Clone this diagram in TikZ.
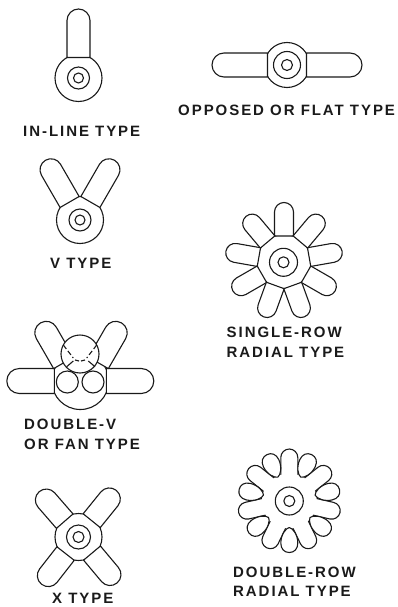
\documentclass[tikz,border=0pt]{standalone}
\usepackage{fontspec}
\setmainfont{Liberation Sans}[LetterSpace=13]
\definecolor{inkline}{HTML}{1A1A1A}

% One cylinder, pointing up before rotation: base line, two sides, round tip
\newcommand{\cylinder}[5]{%
  \begin{scope}[shift={(#1)}, rotate=#2]
    \draw[engine, fill=white, rounded corners=#5pt]
      (-#5,-#3) [sharp corners] -- (-#5,-#3) [rounded corners=#5pt] -- (-#5,-#4) -- (#5,-#4)
      [sharp corners] -- (#5,-#3) -- cycle;
  \end{scope}}
% Two rings of the crankshaft
\newcommand{\rings}[3]{%
  \draw[engine] (#1) circle (#2) (#1) circle (#3);}

\begin{document}
\begin{tikzpicture}[
    x=1pt, y=-1pt,
    engine/.style={draw=inkline, line width=1.1pt, line join=round},
    hidden/.style={engine, dash pattern=on 5pt off 2.5pt},
    typelabel/.style={
      font=\fontsize{15}{19.5}\selectfont\bfseries,
      text=inkline, align=left, anchor=west, inner sep=0pt
    },
  ]
  \useasboundingbox (0,0) rectangle (398,607);

  % In-line
  \coordinate (inline) at (78.5,78);
  \draw[engine] (inline) circle (23.5);
  \cylinder{inline}{0}{20.5}{69}{11.5}
  \rings{inline}{11}{5}
  \node[typelabel] (inlinelabel) at (23,131.5) {IN-LINE TYPE};

  % Opposed
  \coordinate (opposed) at (287,65);
  \draw[engine] (opposed) circle (22.5);
  \foreach \ang in {90,-90} {\cylinder{opposed}{\ang}{19.5}{75}{12}}
  \rings{opposed}{13.5}{5.5}
  \node[typelabel] (opposedlabel) at (178,110) {OPPOSED OR FLAT TYPE};

  % V
  \coordinate (vee) at (80,220);
  \draw[engine] (vee) circle (23.5);
  \foreach \ang in {30,-30} {\cylinder{vee}{\ang}{20.8}{69}{11}}
  \rings{vee}{11}{5}
  \node[typelabel] (veelabel) at (50,263) {V TYPE};

  % Single row radial
  \coordinate (single) at (284,261.5);
  \coordinate (singleshaft) at (283.5,262.3);
  \draw[engine] (single) circle (27);
  \foreach \k in {0,...,8} {\cylinder{single}{\k*40}{25.5}{59}{9.5}}
  \rings{singleshaft}{14}{5.5}
  \node[typelabel] (singlelabel) at (226.5,342.5) {SINGLE-ROW\\RADIAL TYPE};

  % Double-V
  \coordinate (fan) at (80.3,381);
  \coordinate (fanroot) at (81,393);
  \coordinate (fanhead) at (80,354);
  \draw[engine] (fan) circle (28.5);
  \foreach \ang in {90,-90} {\cylinder{fan}{\ang}{26}{73.5}{12.5}}
  \foreach \ang in {30,-30} {\cylinder{fanroot}{\ang}{34.8}{81}{11.5}}
  \draw[engine, fill=white] (fanhead) circle (19);
  \draw[engine, fill=white] (67.3,382) circle (11) (93,382) circle (11);
  \draw[hidden] (63.3,345) -- (73.3,358) (96.7,345) -- (86.7,358);
  \draw[engine] (66.7,366.7) -- (73.3,361) (95,366.7) -- (88.3,361)
    (75,360) -- (79,361) (81,361) -- (85,360);
  \node[typelabel] (fanlabel) at (24,434.5) {DOUBLE-V\\OR FAN TYPE};

  % Double row radial
  \coordinate (double) at (289.3,501);
  \foreach \k in {0,...,6} {\cylinder{double}{\k*360/7}{18}{52}{8.5}}
  \fill[white] (double) circle (27.5);
  \foreach \k in {0,...,6} {
    \begin{scope}[shift={(double)}, rotate={(\k+0.5)*360/7}]
      \draw[engine, fill=white] (0,-26.5) .. controls (-3.5,-27) and (-8.5,-34) .. (-8.5,-42)
        .. controls (-8.5,-48) and (-5,-51.5) .. (0,-51.5)
        .. controls (5,-51.5) and (8.5,-48) .. (8.5,-42)
        .. controls (8.5,-34) and (3.5,-27) .. cycle;
    \end{scope}}
  \rings{double}{14}{5.5}
  \node[typelabel] (doublelabel) at (233,582) {DOUBLE-ROW\\RADIAL TYPE};

  % X
  \coordinate (xtype) at (78.5,537);
  \draw[engine] (xtype) circle (23.5);
  \foreach \ang in {41,-39,-140,142} {\cylinder{xtype}{\ang}{21}{60}{11}}
  \rings{xtype}{12}{5.5}
  \node[typelabel] (xlabel) at (52,598.5) {X TYPE};

\end{tikzpicture}
\end{document}
